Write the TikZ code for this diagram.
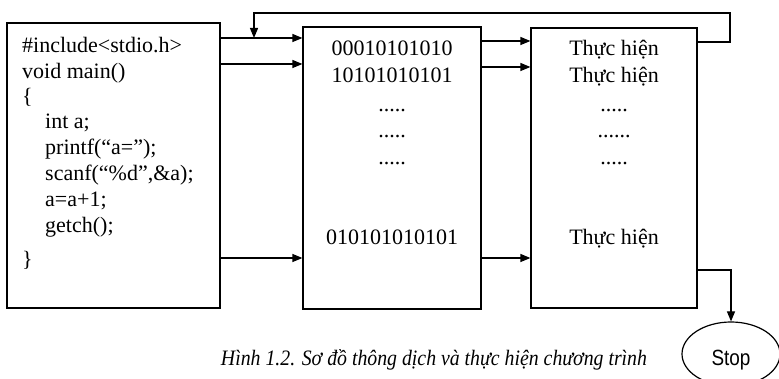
\documentclass[tikz,border=0pt]{standalone}
\usepackage{fontspec}
\setmainfont{Liberation Serif}
\newfontfamily\stopfont{Liberation Sans}
\usetikzlibrary{arrows.meta,shapes.geometric}

\tikzset{
  panel/.style={draw, line width=1.2pt, inner sep=0pt, fill=white},
  codeline/.style={anchor=base west, inner sep=0pt, font=\fontsize{22}{26}\selectfont},
  cell/.style={anchor=base, inner sep=0pt, font=\fontsize{22}{26}\selectfont},
  link/.style={line width=1.2pt, -{Triangle[length=10pt,width=8pt]}},
  endstate/.style={draw, ellipse, line width=1.2pt, minimum width=98pt, minimum height=64pt, inner sep=0pt},
}

\begin{document}
\begin{tikzpicture}[x=1pt, y=-1pt]
  \useasboundingbox (0,0) rectangle (779,379);

  % the three panels: source code, machine code, execution
  \node[panel, minimum width=213pt, minimum height=285pt] (src) at (113.5,165.5) {};
  \node[panel, minimum width=178pt, minimum height=282pt] (bin) at (392,168) {};
  \node[panel, minimum width=166pt, minimum height=280pt] (run) at (614,168) {};

  % source program
  \node[codeline] (c1) at (22,53)  {\#include<stdio.h>};
  \node[codeline] (c2) at (22,79)  {void main()};
  \node[codeline] (c3) at (22,104) {\{};
  \node[codeline] (c4) at (45,129) {int a;};
  \node[codeline] (c5) at (45,155) {printf(“a=”);};
  \node[codeline] (c6) at (45,181) {scanf(“\%d”,\&a);};
  \node[codeline] (c7) at (45,207) {a=a+1;};
  \node[codeline] (c8) at (45,233) {getch();};
  \node[codeline] (c9) at (22,267) {\}};

  % translated instructions
  \node[cell] (b1) at (392,56)  {00010101010};
  \node[cell] (b2) at (392,83)  {10101010101};
  \node[cell] (b3) at (392,112) {.....};
  \node[cell] (b4) at (392,138) {.....};
  \node[cell] (b5) at (392,165) {.....};
  \node[cell] (b6) at (392,245) {010101010101};

  % execution steps
  \node[cell] (r1) at (614,56)  {Thực hiện};
  \node[cell] (r2) at (614,83)  {Thực hiện};
  \node[cell] (r3) at (614,112) {.....};
  \node[cell] (r4) at (614,138) {......};
  \node[cell] (r5) at (614,165) {.....};
  \node[cell] (r6) at (614,245) {Thực hiện};

  % end state
  \node[endstate] (stop) at (731,354) {};
  \node[anchor=base, inner sep=0pt, font=\stopfont\fontsize{22}{26}\selectfont] (stoptext) at (stop.center |- 0,365)
    {\scalebox{0.86}[1]{Stop}};

  % caption
  \node[inner sep=0pt, anchor=base, font=\fontsize{22}{26}\selectfont\itshape] (cap) at (434,365)
    {\scalebox{0.9}[1]{Hình 1.2. Sơ đồ thông dịch và thực hiện chương trình}};

  % source -> machine code
  \draw[link] (src.east |- 0,38)  -- (bin.west |- 0,38);
  \draw[link] (src.east |- 0,64)  -- (bin.west |- 0,64);
  \draw[link] (src.east |- 0,258) -- (bin.west |- 0,258);

  % machine code -> execution
  \draw[link] (bin.east |- 0,41)  -- (run.west |- 0,41);
  \draw[link] (bin.east |- 0,67)  -- (run.west |- 0,67);
  \draw[link] (bin.east |- 0,258) -- (run.west |- 0,258);

  % loop back after each executed instruction
  \coordinate (back) at (254,38);
  \draw[link] (run.east |- 0,42) -- (730,42) -- (730,13) -- (back |- 0,13) -- (back);

  % last instruction -> stop
  \draw[link] (run.east |- 0,270) -| (stop.north);
\end{tikzpicture}
\end{document}
